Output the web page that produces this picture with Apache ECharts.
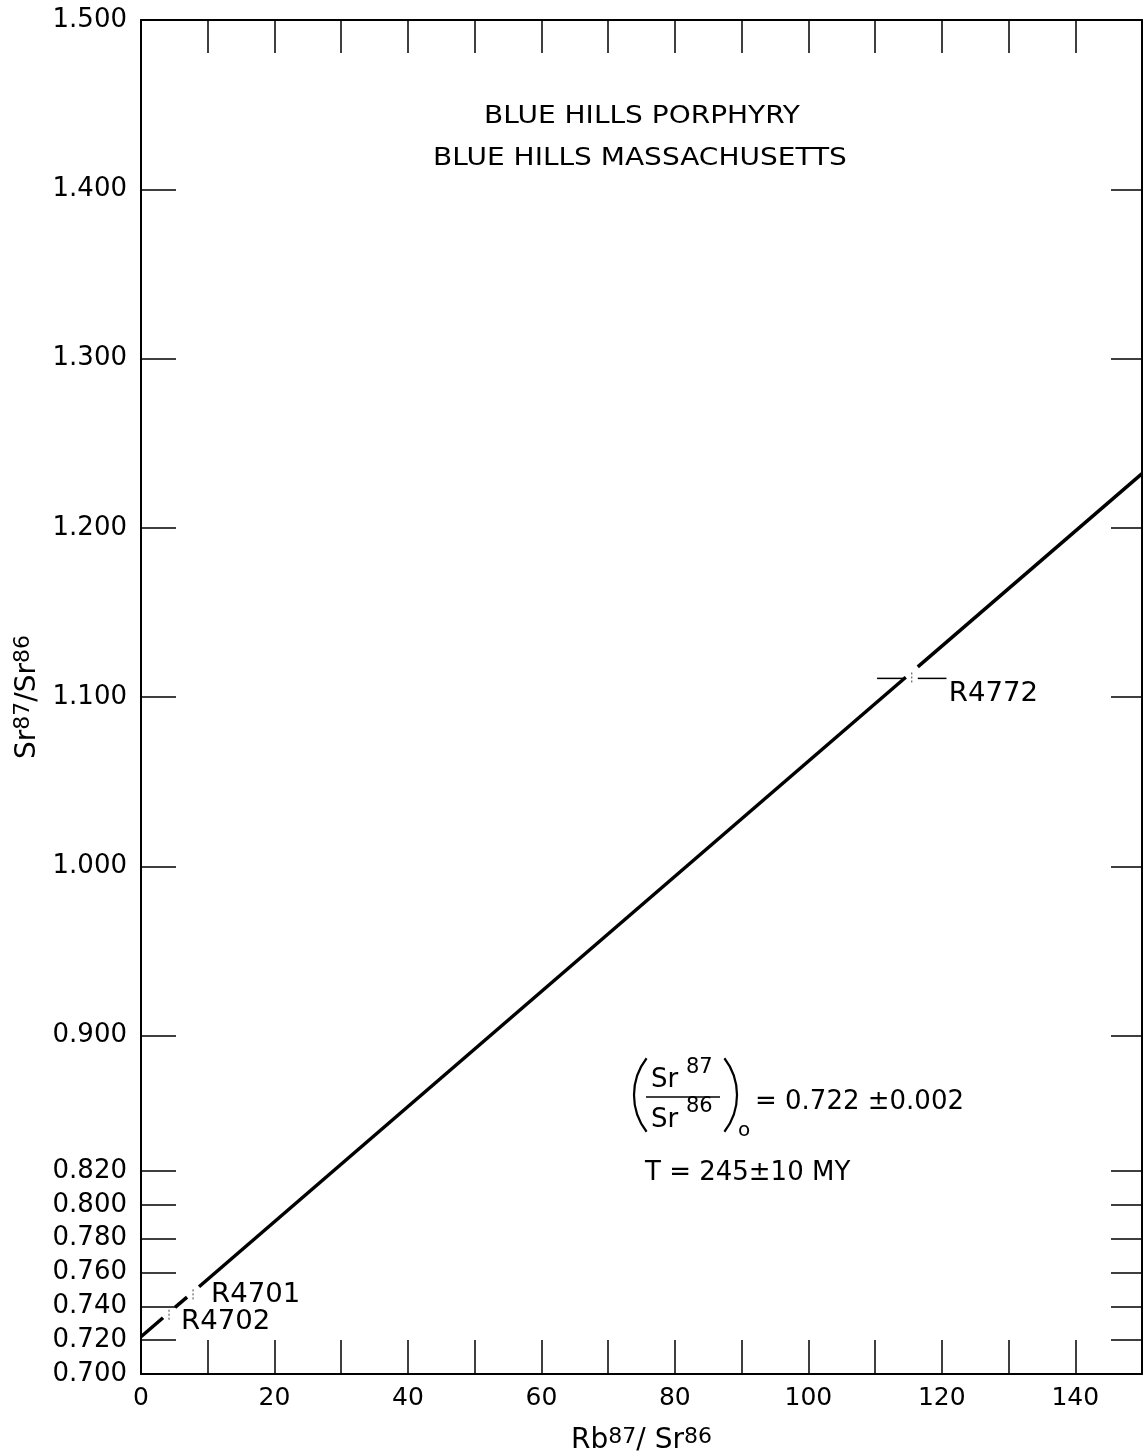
<!DOCTYPE html>
<html><head><meta charset="utf-8">
<script src="https://cdn.jsdelivr.net/npm/echarts@6/dist/echarts.min.js"></script>
<style>html,body{margin:0;padding:0;background:#fff}#c{width:1147px;height:1455px}</style>
</head><body><div id="c"></div>
<script>
// ---- data ----
const xTickValues = [0,10,20,30,40,50,60,70,80,90,100,110,120,130,140,150];
const xLabelValues = [0,20,40,60,80,100,120,140];
const yTickValues = [0.70,0.72,0.74,0.76,0.78,0.80,0.82,0.90,1.00,1.10,1.20,1.30,1.40,1.50];
const sampleNames = ['R4702','R4701','R4772'];
const sampleRb = [4.2, 7.8, 115.5];
const sampleSr = [0.735, 0.747, 1.111];
const sampleRbErr = [0, 0, 5.2];
const sampleSrErr = [0.003, 0.003, 0.0035];
const isochronX = [0, 150];
const isochronY = [0.722, 1.232];

// ---- style ----
const FONT = 'DejaVu Sans';
const GAP = 6;
const labelOffsets = {R4702:[12,7], R4701:[18,1], R4772:[37,16]};

const chart = echarts.init(document.getElementById('c'));

function renderIsochron(params, api) {
  const p0 = api.coord([isochronX[0], isochronY[0]]);
  const p1 = api.coord([isochronX[1], isochronY[1]]);
  const yAt = x => p0[1] + (p1[1]-p0[1])*(x-p0[0])/(p1[0]-p0[0]);
  const gaps = sampleRb.map(x => api.coord([x, 1])[0]).sort((a,b)=>a-b);
  const seg = (a,b) => ({type:'line', shape:{x1:a,y1:yAt(a),x2:b,y2:yAt(b)}, style:{stroke:'#000', lineWidth:3.5}});
  const children = [];
  let start = p0[0];
  gaps.forEach(g => { if (g-GAP > start) children.push(seg(start, g-GAP)); start = g+GAP; });
  children.push(seg(start, p1[0]));
  return {type:'group', children};
}

function renderSample(params, api) {
  const x = api.value(0), y = api.value(1), xe = api.value(2), ye = api.value(3);
  const name = sampleNames[params.dataIndex];
  const c = api.coord([x, y]);
  const children = [];
  if (xe > 0) {
    const l = api.coord([x-xe, y]), r = api.coord([x+xe, y]);
    children.push({type:'line', shape:{x1:l[0],y1:c[1],x2:c[0]-6,y2:c[1]}, style:{stroke:'#000',lineWidth:1.5}});
    children.push({type:'line', shape:{x1:c[0]+6,y1:c[1],x2:r[0],y2:c[1]}, style:{stroke:'#000',lineWidth:1.5}});
  }
  const t = api.coord([x, y+ye]), b = api.coord([x, y-ye]);
  children.push({type:'line', shape:{x1:c[0],y1:t[1],x2:c[0],y2:b[1]}, style:{stroke:'#444',lineWidth:1,lineDash:[2,2]}});
  const off = labelOffsets[name];
  children.push({type:'text', x:c[0]+off[0], y:c[1]+off[1], scaleX:1.06, style:{text:name, font:'26px '+FONT, fill:'#000', textAlign:'left', textVerticalAlign:'middle'}});
  return {type:'group', children};
}

const axisLineStyle = {color:'#000', width:2};
const tickStyle = {color:'#000', width:1.5};
const nameRich = {
  b:{fontSize:28, fontFamily:FONT, color:'#000', lineHeight:29, padding:[11,0,0,0], verticalAlign:'bottom'},
  s:{fontSize:22, fontFamily:FONT, color:'#000', lineHeight:22, verticalAlign:'top'}
};

const option = {
  animation:false,
  backgroundColor:'#fff',
  grid:{left:141, right:5, top:20, bottom:81, outerBoundsMode:'none', containLabel:false},
  xAxis:[
    {type:'value', min:0, max:150, position:'bottom',
     axisLine:{show:true, onZero:false, lineStyle:axisLineStyle},
     axisTick:{show:true, inside:true, length:34, customValues:xTickValues, lineStyle:tickStyle},
     axisLabel:{customValues:xLabelValues, color:'#000', fontSize:25, fontFamily:FONT, margin:12},
     splitLine:{show:false},
     name:'{b|Rb}{s|87}{b|/ Sr}{s|86}', nameLocation:'middle', nameGap:40,
     nameTextStyle:{fontSize:28, fontFamily:FONT, color:'#000', rich:nameRich}},
    {type:'value', min:0, max:150, position:'top',
     axisLine:{show:true, onZero:false, lineStyle:axisLineStyle},
     axisTick:{show:true, inside:true, length:33, customValues:xTickValues, lineStyle:tickStyle},
     axisLabel:{show:false}, splitLine:{show:false}}
  ],
  yAxis:[
    {type:'value', min:0.7, max:1.5, position:'left',
     axisLine:{show:true, onZero:false, lineStyle:axisLineStyle},
     axisTick:{show:true, inside:true, length:35, customValues:yTickValues, lineStyle:tickStyle},
     axisLabel:{customValues:yTickValues, formatter:v=>v.toFixed(3), color:'#000', fontSize:26, fontFamily:FONT, margin:14},
     splitLine:{show:false},
     name:'{b|Sr}{s|87}{b|/Sr}{s|86}', nameLocation:'middle', nameRotate:90, nameGap:98,
     nameTextStyle:{fontSize:28, fontFamily:FONT, color:'#000', rich:nameRich}},
    {type:'value', min:0.7, max:1.5, position:'right',
     axisLine:{show:true, onZero:false, lineStyle:axisLineStyle},
     axisTick:{show:true, inside:true, length:31, customValues:yTickValues, lineStyle:tickStyle},
     axisLabel:{show:false}, splitLine:{show:false}}
  ],
  graphic:[
    {type:'text', x:642, y:116, scaleX:1.12, style:{text:'BLUE HILLS PORPHYRY', font:'25px '+FONT, fill:'#000', textAlign:'center', textVerticalAlign:'middle'}},
    {type:'text', x:640, y:158, scaleX:1.12, style:{text:'BLUE HILLS MASSACHUSETTS', font:'25px '+FONT, fill:'#000', textAlign:'center', textVerticalAlign:'middle'}},
    {type:'arc', shape:{cx:694, cy:1095, r:60, startAngle:Math.PI-0.66, endAngle:Math.PI+0.66}, style:{stroke:'#000', lineWidth:2.2, fill:null}},
    {type:'arc', shape:{cx:677, cy:1095, r:60, startAngle:-0.66, endAngle:0.66}, style:{stroke:'#000', lineWidth:2.2, fill:null}},
    {type:'line', shape:{x1:646, y1:1097, x2:720, y2:1097}, style:{stroke:'#000', lineWidth:1.5}},
    {type:'text', x:651, y:1080, style:{text:'Sr', font:'26px '+FONT, fill:'#000', textAlign:'left', textVerticalAlign:'middle'}},
    {type:'text', x:686, y:1068, style:{text:'87', font:'21px '+FONT, fill:'#000', textAlign:'left', textVerticalAlign:'middle'}},
    {type:'text', x:651, y:1120, style:{text:'Sr', font:'26px '+FONT, fill:'#000', textAlign:'left', textVerticalAlign:'middle'}},
    {type:'text', x:686, y:1107, style:{text:'86', font:'21px '+FONT, fill:'#000', textAlign:'left', textVerticalAlign:'middle'}},
    {type:'text', x:738, y:1131, style:{text:'o', font:'20px '+FONT, fill:'#000', textAlign:'left', textVerticalAlign:'middle'}},
    {type:'text', x:755, y:1102, style:{text:'= 0.722 ±0.002', font:'26px '+FONT, fill:'#000', textAlign:'left', textVerticalAlign:'middle'}},
    {type:'text', x:645, y:1173, style:{text:'T = 245±10 MY', font:'26px '+FONT, fill:'#000', textAlign:'left', textVerticalAlign:'middle'}}
  ],
  series:[
    {type:'custom', name:'isochron', xAxisIndex:0, yAxisIndex:0, renderItem:renderIsochron,
     data:[[isochronX[0], isochronY[0]]], silent:true, z:3},
    {type:'custom', name:'samples', xAxisIndex:0, yAxisIndex:0, renderItem:renderSample,
     encode:{x:0, y:1},
     data:sampleRb.map((x,i)=>[x, sampleSr[i], sampleRbErr[i], sampleSrErr[i]]), silent:true, z:4}
  ]
};
chart.setOption(option);
</script>
</body></html>
